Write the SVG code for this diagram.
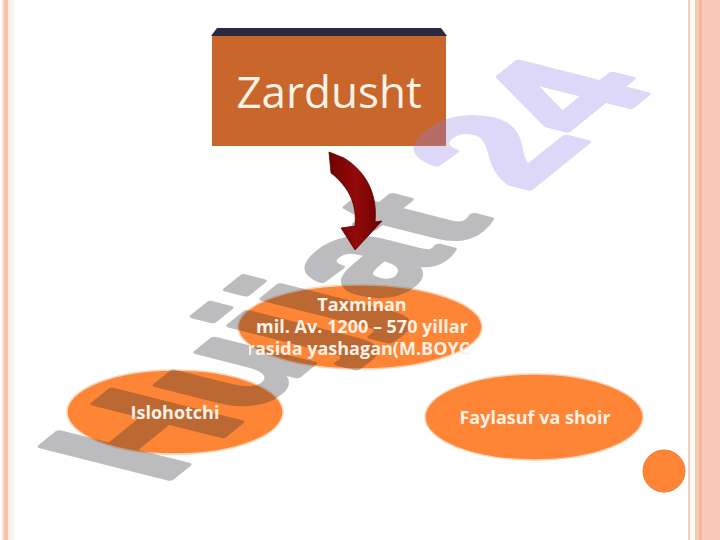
<svg xmlns="http://www.w3.org/2000/svg" width="720" height="540" viewBox="0 0 720 540">
  <defs>
    <style>
      .oval { fill: #fd8535; stroke: #fcd2b4; stroke-width: 1.5; }
      .lbl { font-family: "Open Sans", "Noto Sans", "Liberation Sans", sans-serif; font-weight: bold; font-size: 18px; fill: #fff1e4; text-anchor: middle; }
      .wm { font-family: "Liberation Sans", Arial, sans-serif; font-weight: bold; font-size: 100px; stroke-width: 4; stroke-linejoin: round; }
    </style>
    <clipPath id="clipTax">
      <rect x="249" y="286" width="220" height="82"/>
    </clipPath>
    <linearGradient id="arrowGrad" x1="0" y1="0" x2="1" y2="0">
      <stop offset="0" stop-color="#6e0000"/>
      <stop offset="0.5" stop-color="#930a0a"/>
      <stop offset="1" stop-color="#6a0000"/>
    </linearGradient>
  </defs>
  <rect x="0" y="0" width="720" height="540" fill="#ffffff"/>
  <!-- page borders -->
  <g id="borders">
    <rect x="2" y="0" width="1.5" height="540" fill="#fde3d4"/>
    <rect x="3.5" y="0" width="5" height="540" fill="#f8c3a6"/>
    <rect x="8.5" y="0" width="6" height="540" fill="#fdf3f3"/>
    <rect x="688" y="0" width="2" height="540" fill="#f9cabd"/>
    <rect x="690" y="0" width="5" height="540" fill="#fffaf2"/>
    <rect x="695" y="0" width="5" height="540" fill="#f9c7b4"/>
    <rect x="699" y="0" width="3" height="540" fill="#efb898"/>
    <rect x="702" y="0" width="18" height="540" fill="#fbc9b9"/>
  </g>
  <g id="node-zardusht">
    <polygon points="217,28 441,28 447,36 211,36" fill="#2b2a40"/>
    <rect x="212" y="36" width="234" height="110" fill="#c8662c"/>
  </g>
  <g id="node-taxminan">
    <ellipse cx="360" cy="327" rx="122" ry="42" class="oval"/>
  </g>
  <g id="node-islohotchi">
    <ellipse cx="175" cy="412" rx="108" ry="42" class="oval"/>
  </g>
  <g id="node-faylasuf">
    <ellipse cx="534" cy="417" rx="109" ry="43" class="oval"/>
  </g>
  <g id="dot">
    <circle cx="664" cy="471" r="21" fill="#fd8535" stroke="#f07a2c" stroke-width="1"/>
  </g>
  <!-- watermark -->
  <g id="watermark" opacity="0.3">
    <text class="wm" transform="matrix(1.19,-0.96,1.86,0.47,162,485)"><tspan fill="#262630" stroke="#262630">Hujjat</tspan><tspan fill="#917de9" stroke="#917de9"> 24</tspan></text>
  </g>
  <g id="connectors">
    <path d="M329,152 L344,158 C365,171 378,193 375,222 L382,221 L355,250 L341,228 L355,226 C357,205 350,188 331,173 Z" fill="url(#arrowGrad)" stroke="#5e0000" stroke-width="0.8"/>
  </g>
  <g id="labels">
    <text x="329" y="108" font-family="Open Sans, Noto Sans, Liberation Sans, sans-serif" font-size="44" fill="#fff3e6" text-anchor="middle">Zardusht</text>
    <g clip-path="url(#clipTax)">
      <text class="lbl" x="362" y="311">Taxminan</text>
      <text class="lbl" x="362" y="333">mil. Av. 1200 – 570 yillar</text>
      <text class="lbl" x="361" y="355">orasida yashagan(M.BOYCE)</text>
    </g>
    <text class="lbl" x="175" y="419">Islohotchi</text>
    <text class="lbl" x="535" y="424">Faylasuf va shoir</text>
  </g>
</svg>
